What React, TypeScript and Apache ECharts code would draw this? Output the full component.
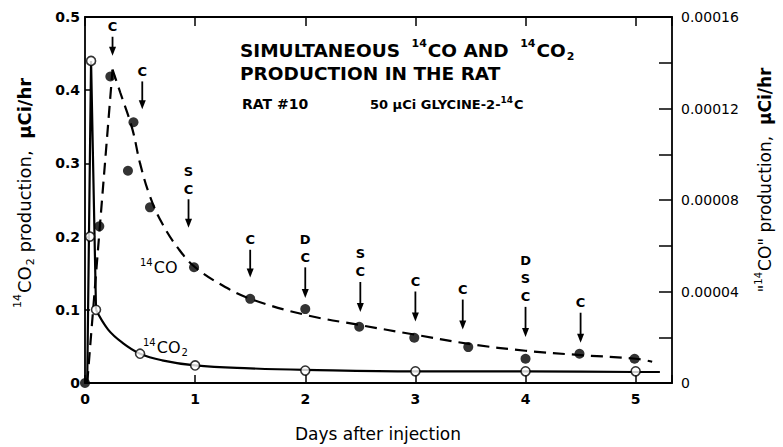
import React, { useEffect, useRef } from 'react';
import * as echarts from 'echarts';

// 14CO2 (left axis, µCi/hr) — open circles
const co2PointDays = [0.045, 0.055, 0.1, 0.5, 1.0, 2.0, 3.0, 4.0, 5.0];
const co2PointValues = [0.2, 0.44, 0.1, 0.04, 0.024, 0.017, 0.016, 0.016, 0.016];
// 14CO2 drawn line: the early spike, then the smooth decay
const co2SpikeDays = [0.02, 0.055, 0.1];
const co2SpikeValues = [0, 0.44, 0.1];
const co2DecayDays = [0.1, 0.21, 0.34, 0.5, 0.7, 1.0, 1.5, 2.0, 3.0, 4.0, 5.0, 5.22];
const co2DecayValues = [0.1, 0.073, 0.055, 0.04, 0.031, 0.024, 0.02, 0.018, 0.016, 0.016, 0.015, 0.015];

// "14CO" (right axis, µCi/hr) — filled circles
const coPointDays = [0, 0.13, 0.23, 0.39, 0.44, 0.59, 0.99, 1.5, 2.0, 2.49, 2.99, 3.48, 4.0, 4.49, 4.99];
const coPointValues = [0, 0.0000685, 0.000134, 0.0000928, 0.000114, 0.0000768, 0.0000506, 0.0000368, 0.0000323, 0.0000246, 0.0000198, 0.0000157, 0.0000106, 0.0000128, 0.0000106];
// "14CO" dashed line: straight rise, then smooth decay
const coRiseDays = [0.02, 0.25];
const coRiseValues = [0, 0.000137];
const coDecayDays = [0.25, 0.32, 0.43, 0.5, 0.59, 0.7, 0.85, 1.0, 1.25, 1.5, 2.0, 2.5, 3.0, 3.5, 4.0, 4.5, 5.0, 5.15];
const coDecayValues = [0.000137, 0.000127, 0.000111, 0.000096, 0.0000816, 0.0000698, 0.0000586, 0.0000506, 0.0000426, 0.0000368, 0.0000298, 0.0000253, 0.0000211, 0.000017, 0.0000141, 0.0000122, 0.0000106, 0.0000093];

// Event arrows (left-axis units)
const annDays = [0.25, 0.52, 0.94, 1.5, 2.0, 2.5, 3.0, 3.43, 4.0, 4.5];
const annTop = [0.473, 0.412, 0.251, 0.182, 0.158, 0.138, 0.125, 0.114, 0.104, 0.096];
const annTip = [0.447, 0.374, 0.212, 0.144, 0.116, 0.097, 0.084, 0.073, 0.063, 0.055];
const annLabels = ['C', 'C', 'S\nC', 'C', 'D\nC', 'S\nC', 'C', 'C', 'D\nS\nC', 'C'];

const xTicks = [0, 1, 2, 3, 4, 5];
const FONT = 'DejaVu Sans';

export default function App() {
  const ref = useRef<HTMLDivElement>(null);
  useEffect(() => {
    document.body.style.margin = '0';
    const chart = echarts.init(ref.current!, null, { renderer: 'svg' });
    const supStyle = (size: number, bold: boolean, padL = 0) => ({
      fontSize: size, fontFamily: FONT, fontWeight: bold ? 'bold' : 'normal', fill: '#000', verticalAlign: 'top', lineHeight: size,
      padding: [0, 1, 0, padL],
    });
    const mainStyle = (size: number, bold: boolean, lh: number) => ({
      fontSize: size, fontFamily: FONT, fontWeight: bold ? 'bold' : 'normal', fill: '#000', lineHeight: lh,
    });
    const subStyle = (size: number, bold: boolean) => ({
      fontSize: size, fontFamily: FONT, fontWeight: bold ? 'bold' : 'normal', fill: '#000', verticalAlign: 'bottom', lineHeight: size,
      padding: [0, 0, 0, 1],
    });
    const solid = { color: '#000', width: 2.2 };
    const dashed = { color: '#000', width: 2.2, type: [12, 7] };

    const option: any = {
      animation: false,
      backgroundColor: '#fff',
      grid: { left: 85, right: 111, top: 17, bottom: 64 },
      xAxis: [
        {
          type: 'value', position: 'bottom', min: 0, max: 5.33, interval: 1,
          axisLine: { show: true, onZero: false, lineStyle: { color: '#000', width: 1.8 } },
          axisTick: { show: true, inside: true, length: 8, lineStyle: { color: '#000', width: 1.5 } },
          splitLine: { show: false },
          axisLabel: {
            color: '#000', fontFamily: FONT, fontWeight: 'bold', fontSize: 14, margin: 9,
            formatter: (v: number) => (xTicks.includes(v) ? String(v) : ''),
          },
        },
        {
          type: 'value', position: 'top', min: 0, max: 5.33, interval: 1,
          axisLine: { show: true, onZero: false, lineStyle: { color: '#000', width: 1.8 } },
          axisTick: { show: true, inside: true, length: 9, lineStyle: { color: '#000', width: 1.5 } },
          splitLine: { show: false },
          axisLabel: { show: false },
        },
      ],
      yAxis: [
        {
          type: 'value', position: 'left', min: 0, max: 0.5, interval: 0.1,
          axisLine: { show: true, onZero: false, lineStyle: { color: '#000', width: 1.8 } },
          axisTick: { show: true, inside: true, length: 5, lineStyle: { color: '#000', width: 1.5 } },
          splitLine: { show: false },
          axisLabel: {
            color: '#000', fontFamily: FONT, fontWeight: 'bold', fontSize: 14, margin: 5,
            formatter: (v: number) => (v === 0 ? '0' : v.toFixed(1)),
          },
        },
        {
          type: 'value', position: 'right', min: 0, max: 0.00016, interval: 0.00004,
          axisLine: { show: true, onZero: false, lineStyle: { color: '#000', width: 1.8 } },
          axisTick: { show: true, inside: true, length: 13, lineStyle: { color: '#000', width: 1.5 } },
          minorTick: { show: true, splitNumber: 2, length: 13, lineStyle: { color: '#000', width: 1.5 } },
          splitLine: { show: false },
          axisLabel: {
            color: '#000', fontFamily: FONT, fontSize: 14, margin: 9,
            formatter: (v: number) => (v === 0 ? '0' : v.toFixed(5)),
          },
        },
      ],
      series: [
        {
          name: '14CO2 spike', type: 'line', xAxisIndex: 0, yAxisIndex: 0,
          data: co2SpikeDays.map((d, i) => [d, co2SpikeValues[i]]),
          showSymbol: false, symbol: 'none', lineStyle: solid, z: 3,
        },
        {
          name: '14CO2 decay', type: 'line', xAxisIndex: 0, yAxisIndex: 0,
          data: co2DecayDays.map((d, i) => [d, co2DecayValues[i]]),
          showSymbol: false, symbol: 'none', smooth: 0.4, lineStyle: solid, z: 3,
        },
        {
          name: '14CO rise', type: 'line', xAxisIndex: 0, yAxisIndex: 1,
          data: coRiseDays.map((d, i) => [d, coRiseValues[i]]),
          showSymbol: false, symbol: 'none', lineStyle: dashed, z: 3,
        },
        {
          name: '14CO decay', type: 'line', xAxisIndex: 0, yAxisIndex: 1,
          data: coDecayDays.map((d, i) => [d, coDecayValues[i]]),
          showSymbol: false, symbol: 'none', smooth: 0.4, lineStyle: dashed, z: 3,
        },
        {
          name: '14CO', type: 'scatter', xAxisIndex: 0, yAxisIndex: 1,
          data: coPointDays.map((d, i) => [d, coPointValues[i]]),
          symbol: 'circle', symbolSize: 10,
          itemStyle: { color: '#000' }, z: 4,
        },
        {
          name: '14CO2', type: 'scatter', xAxisIndex: 0, yAxisIndex: 0,
          data: co2PointDays.map((d, i) => [d, co2PointValues[i]]),
          symbol: 'circle', symbolSize: 9,
          itemStyle: { color: '#fff', borderColor: '#000', borderWidth: 1.6 }, z: 5,
        },
        {
          name: 'events', type: 'custom', xAxisIndex: 0, yAxisIndex: 0,
          data: annDays.map((d, i) => [d, annTop[i], annTip[i]]),
          encode: { x: 0, y: [1, 2] },
          renderItem: (params: any, api: any) => {
            const i = params.dataIndex;
            const top = api.coord([api.value(0), api.value(1)]);
            const tip = api.coord([api.value(0), api.value(2)]);
            return {
              type: 'group',
              children: [
                { type: 'line', shape: { x1: top[0], y1: top[1], x2: tip[0], y2: tip[1] - 6 }, style: { stroke: '#000', lineWidth: 1.8 } },
                { type: 'polygon', shape: { points: [[tip[0] - 3.5, tip[1] - 9], [tip[0] + 3.5, tip[1] - 9], [tip[0], tip[1]]] }, style: { fill: '#000' } },
                {
                  type: 'text', x: top[0], y: top[1] - 1,
                  style: { text: annLabels[i], fill: '#000', fontFamily: FONT, fontWeight: 'bold', fontSize: 13, lineHeight: 18, align: 'center', verticalAlign: 'bottom' },
                },
              ],
            };
          },
          z: 6,
        },
      ],
      graphic: [
        {
          type: 'text', x: 240, y: 50,
          style: {
            text: '{b|SIMULTANEOUS }{s|14}{b|CO AND }{s|14}{b|CO}{u|2}',
            verticalAlign: 'middle',
            rich: { b: mainStyle(18.5, true, 24), s: supStyle(11, true, 5), u: subStyle(11, true) },
          },
        },
        {
          type: 'text', x: 240, y: 73,
          style: { text: '{b|PRODUCTION IN THE RAT}', verticalAlign: 'middle', rich: { b: mainStyle(18.5, true, 24) } },
        },
        {
          type: 'text', x: 242, y: 104,
          style: { text: '{b|RAT #10}', verticalAlign: 'middle', rich: { b: mainStyle(14, true, 18) } },
        },
        {
          type: 'text', x: 370, y: 104,
          style: {
            text: '{b|50 µCi GLYCINE-2-}{s|14}{b|C}',
            verticalAlign: 'middle',
            rich: { b: mainStyle(13, true, 18), s: supStyle(9, true) },
          },
        },
        {
          type: 'text', x: 140, y: 267,
          style: { text: '{s|14}{b|CO}', verticalAlign: 'middle', rich: { b: mainStyle(16, false, 20), s: supStyle(10, false) } },
        },
        {
          type: 'text', x: 143, y: 347,
          style: { text: '{s|14}{b|CO}{u|2}', verticalAlign: 'middle', rich: { b: mainStyle(16, false, 20), s: supStyle(10, false), u: subStyle(10, false) } },
        },
        {
          type: 'text', x: 24, y: 193, rotation: Math.PI / 2,
          style: {
            text: '{s|14}{b|CO}{u|2}{b| production,  }{m|µCi/hr}',
            align: 'center', verticalAlign: 'middle',
            rich: { b: mainStyle(18, false, 24), s: supStyle(11, false), u: subStyle(11, false), m: mainStyle(18, true, 24) },
          },
        },
        {
          type: 'text', x: 765, y: 180, rotation: Math.PI / 2,
          style: {
            text: '{b|"}{s|14}{b|CO" production,  }{m|µCi/hr}',
            align: 'center', verticalAlign: 'middle',
            rich: { b: mainStyle(17, false, 24), s: supStyle(10, false), m: mainStyle(17, true, 24) },
          },
        },
        {
          type: 'text', x: 378, y: 434,
          style: { text: 'Days after injection', align: 'center', verticalAlign: 'middle', fill: '#000', fontFamily: FONT, fontSize: 17 },
        },
      ],
    };
    chart.setOption(option);
    return () => chart.dispose();
  }, []);
  return <div ref={ref} style={{ width: 783, height: 447 }} />;
}
